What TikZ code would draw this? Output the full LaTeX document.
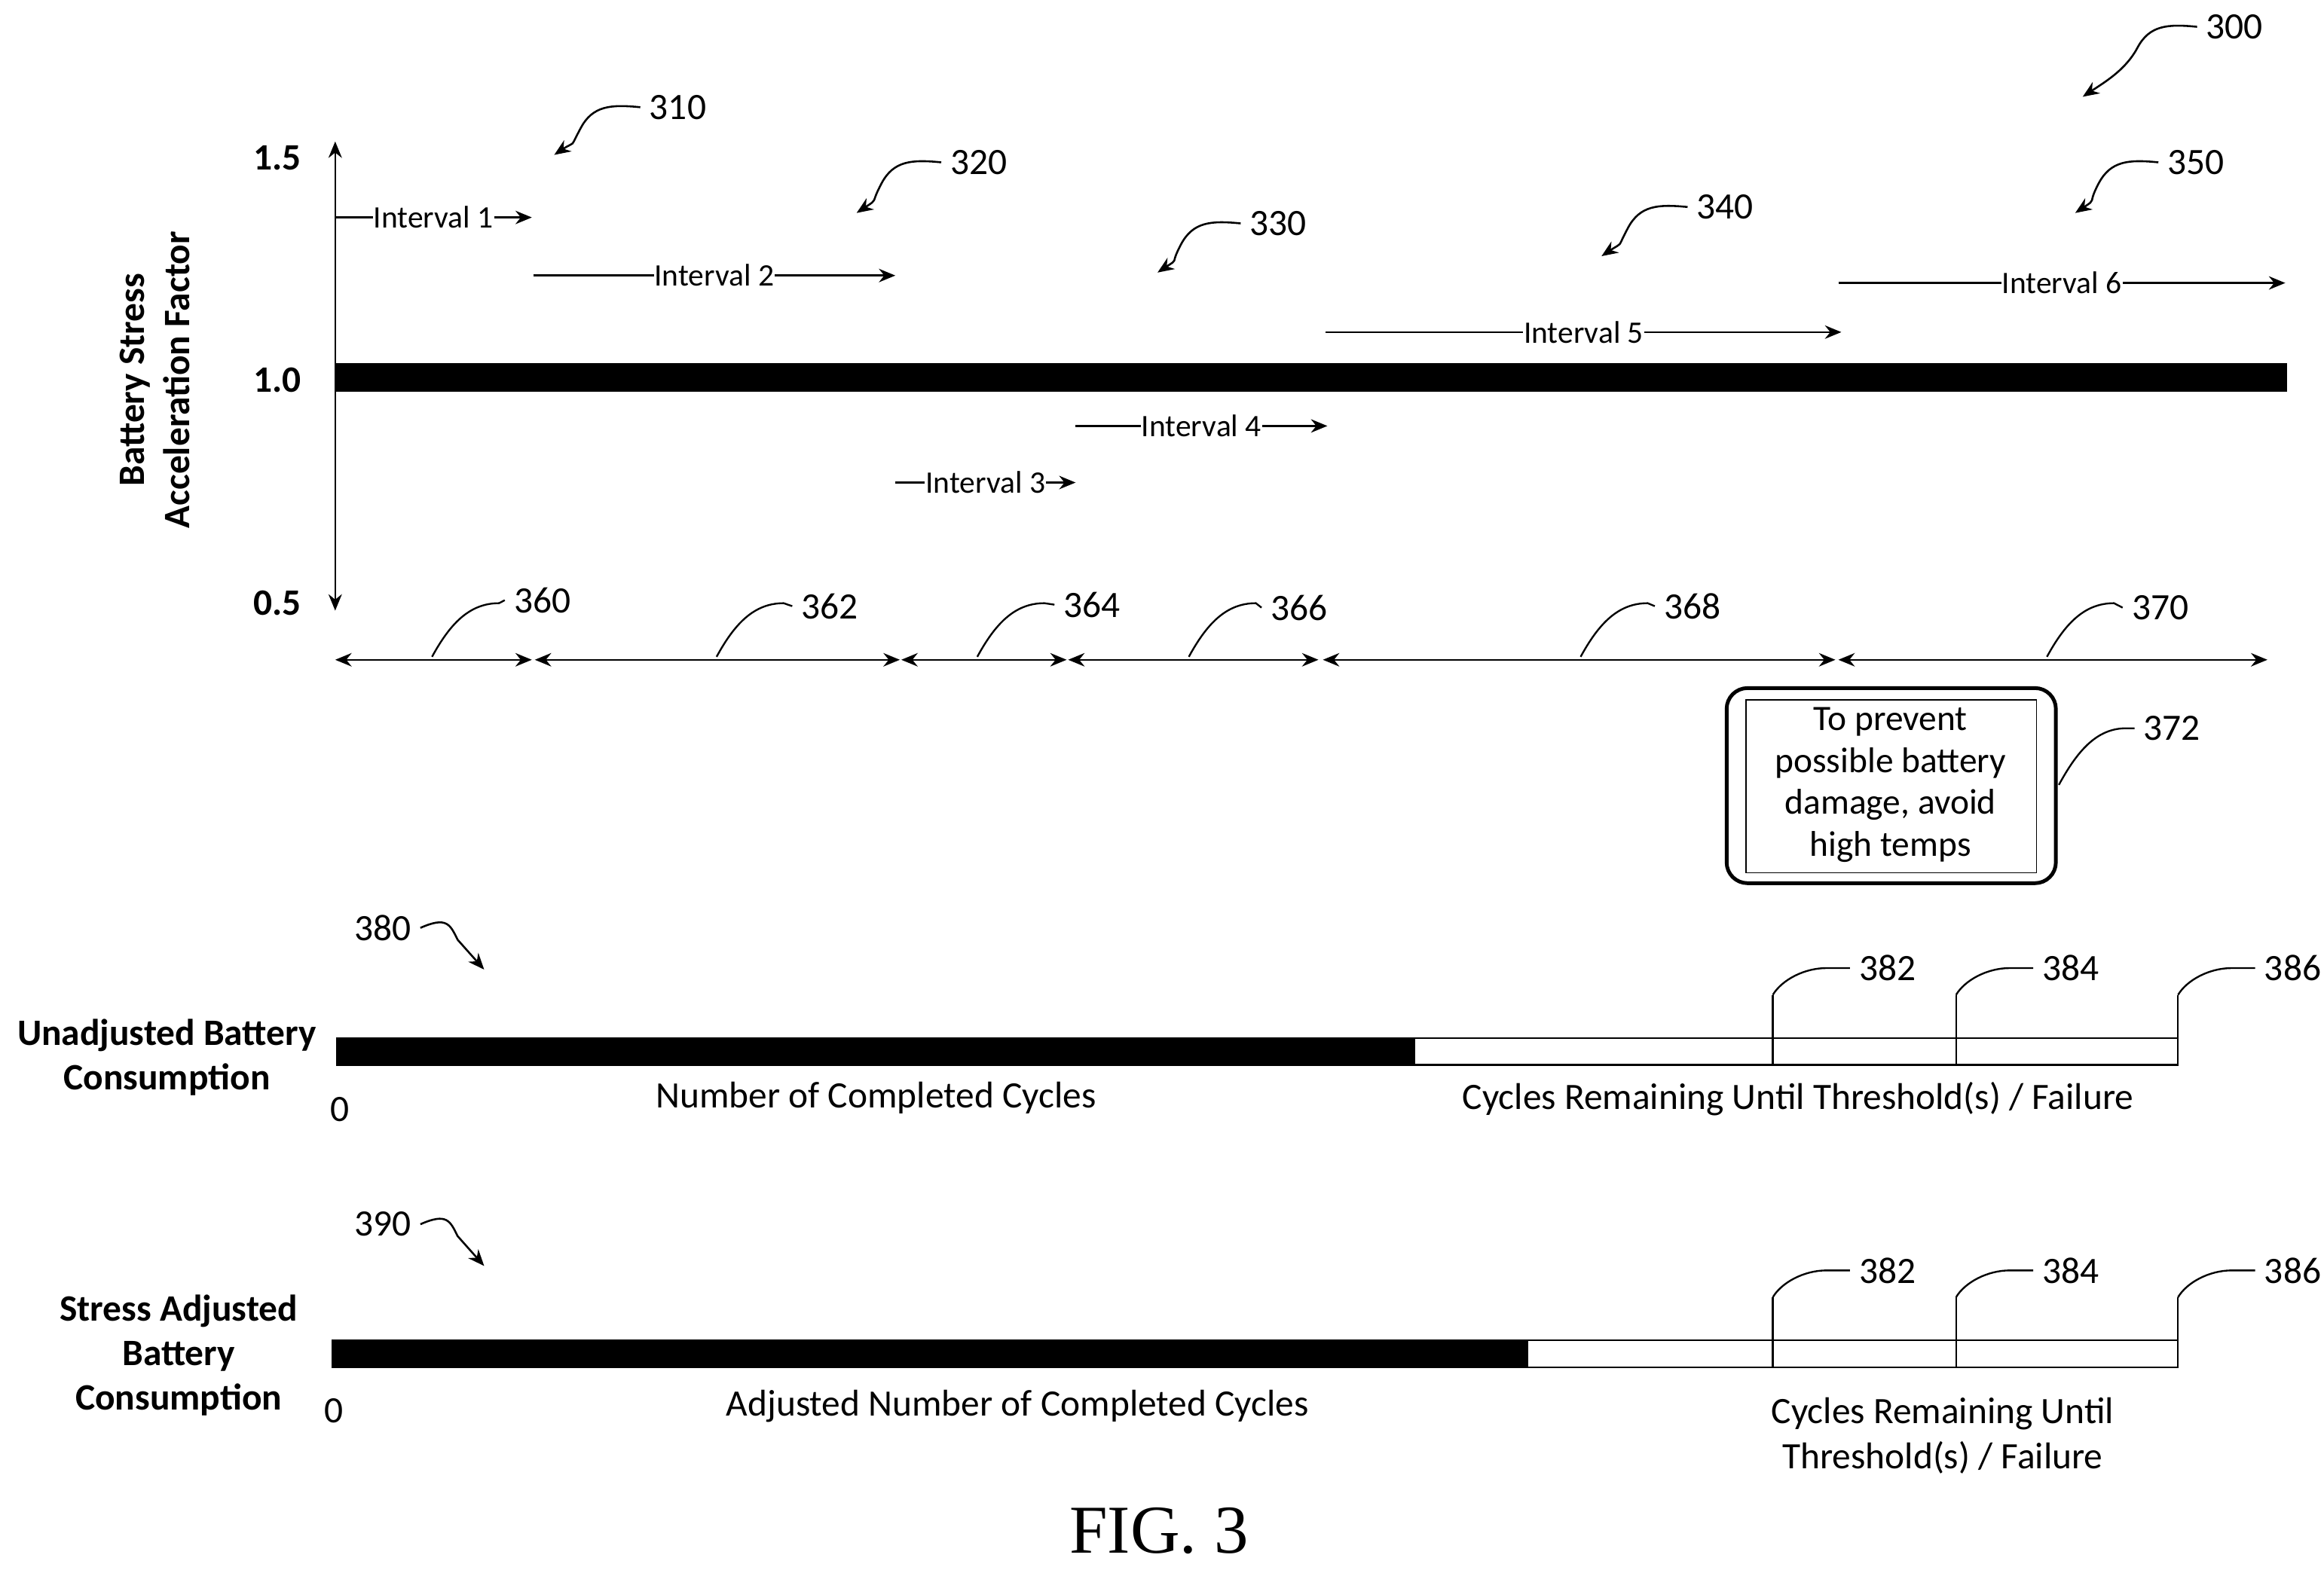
\documentclass[tikz,border=0pt]{standalone}
\usepackage{fontspec}
\setmainfont{Carlito}
\newfontfamily\figfont{Liberation Serif}
\usetikzlibrary{arrows.meta}
\begin{document}
\begin{tikzpicture}[x=1pt,y=-1pt,
  txt/.style={font=\fontsize{25}{29}\selectfont,inner sep=1pt},
  itxt/.style={font=\fontsize{21}{25}\selectfont,inner sep=0.5pt,fill=white},
  btxt/.style={font=\fontsize{25}{30}\selectfont\bfseries,align=center,inner sep=1pt},
  ln/.style={line width=1.3pt},
  arr/.style={ln,-{Stealth[length=11pt,width=9pt]}},
  darr/.style={ln,{Stealth[length=11pt,width=9pt]}-{Stealth[length=11pt,width=9pt]}},
  lead/.style={line width=1.2pt}]
\useasboundingbox (0,0) rectangle (1560,1054);
% axis
\coordinate (ytop) at (225,95); \coordinate (ybot) at (225,410);
\draw[darr] (ytop) -- (ybot);
\node[btxt] (l15) at (186,106) {1.5};
\node[btxt] (l10) at (186,255) {1.0};
\node[btxt] (l05) at (186,405) {0.5};
\node[btxt,rotate=90] (ylab) at (104,255) {Battery Stress\\Acceleration Factor};
\fill (225,244) rectangle (1535,263);
% intervals
\foreach \n/\a/\b/\y in {1/225/357/146,2/358/601/185,3/601/722/324,4/722/891/286,5/890/1236/223,6/1234/1534/190}{
  \coordinate (ia\n) at (\a,\y); \coordinate (ib\n) at (\b,\y);
  \draw[arr] (ia\n) -- (ib\n);
  \node[itxt] (int\n) at ({(\a+\b)/2},\y) {Interval \n};
}
% reference arrows
\foreach \t/\tx/\ty/\hx/\hy in {310/455/72/372/104,320/657/109/575/143,330/858/150/777/183,340/1158/139/1075/172,350/1474/109/1393/143,300/1500/18/1398/65}{
  \node[txt] (r\t) at (\tx,\ty) {\t};
  \coordinate (rh\t) at (\hx,\hy);
  \draw[arr] ([xshift=-5pt]r\t.west) .. controls +(-20,-2) and +(8,-15) .. ++(-40,14) .. controls +(-8,15) and +(15,-10) .. (rh\t);
}
% spans
\foreach \n/\a/\b/\lx/\tx/\ty in {360/225/357/290/364/403,362/359/604/481/557/407,364/605/716/656/733/406,366/717/885/798/872/408,368/888/1232/1061/1136/407,370/1234/1522/1374/1450/408}{
  \coordinate (sa\n) at (\a,443); \coordinate (sb\n) at (\b,443);
  \draw[darr] (sa\n) -- (sb\n);
  \node[txt] (s\n) at (\tx,\ty) {\n};
  \coordinate (sl\n) at (\lx,441);
  \draw[lead] (sl\n) .. controls +(12,-22) and +(-20,0) .. ++(45,-36) -- ([xshift=-5pt]s\n.west);
}
% box 372
\draw[line width=2.5pt,rounded corners=14pt] (1159,462) rectangle (1380,593);
\draw[line width=0.8pt] (1172,470) rectangle (1367,586);
\node[txt,align=center,font=\fontsize{24}{28}\selectfont] (box) at (1269,527) {To prevent\\possible battery\\damage, avoid\\high temps};
\node[txt] (s372) at (1458,489) {372};
\coordinate (b372) at (1382,527);
\draw[lead] (b372) .. controls +(12,-22) and +(-20,0) .. ++(45,-38) -- ([xshift=-5pt]s372.west);
% sections
\foreach \s/\tag/\ty/\top/\bot/\fx/\left in {1/380/623/697/715/950/226,2/390/822/900/918/1026/223}{
  \node[txt] (tag\tag) at (257,\ty) {\tag};
  \coordinate (th\tag) at (325,\ty+28);
  \draw[arr] ([xshift=5pt]tag\tag.east) .. controls +(18,-8) and +(-5,-10) .. ++(25,8) -- (th\tag);
  \draw[line width=1.2pt] (\left,\top) rectangle (1462,\bot);
  \fill (\left,\top) rectangle (\fx,\bot);
  \foreach \x/\lab in {1190/382,1313/384,1462/386}{
    \coordinate (tk\s\lab) at (\x,\top-29);
    \draw[lead] (\x,\bot) -- (tk\s\lab);
    \node[txt] (n\s\lab) at (\x+77,\top-47) {\lab};
    \draw[lead] (tk\s\lab) .. controls +(6,-10) and +(-15,0) .. ++(36,-18) -- ([xshift=-5pt]n\s\lab.west);
  }
}
\node[btxt] (u1) at (112,710) {Unadjusted Battery\\Consumption};
\node[txt] (z1) at (228,745) {0};
\node[txt] (c1) at (588,737) {Number of Completed Cycles};
\node[txt] (r1) at (1207,738) {Cycles Remaining Until Threshold(s) / Failure};
\node[btxt] (u2) at (120,910) {Stress Adjusted\\Battery\\Consumption};
\node[txt] (z2) at (224,947) {0};
\node[txt] (c2) at (683,944) {Adjusted Number of Completed Cycles};
\node[txt,align=center,font=\fontsize{25}{30}\selectfont] (r2) at (1304,964) {Cycles Remaining Until\\Threshold(s) / Failure};
\node[font=\figfont\fontsize{46}{50}\selectfont] (fig) at (778,1028) {FIG. 3};
\end{tikzpicture}
\end{document}
